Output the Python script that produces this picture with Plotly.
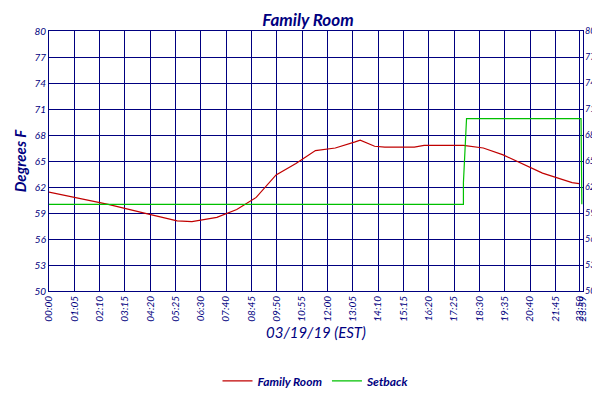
import plotly.graph_objects as go

## Data (x in axis units: 65 units per tick step)
tick_labels = ["00:00", "01:05", "02:10", "03:15", "04:20", "05:25", "06:30", "07:40",
               "08:45", "09:50", "10:55", "12:00", "13:05", "14:10", "15:15", "16:20",
               "17:25", "18:30", "19:35", "20:40", "21:45", "23:50", "23:59"]
tick_vals = [i * 65 for i in range(21)] + [1362, 1371]

room_x = [0, 63, 152, 253, 329, 367, 431, 482, 532, 583, 634, 684, 735, 786, 799,
          836, 862, 938, 963, 1064, 1115, 1166, 1216, 1267, 1343, 1361]
room_y = [61.4, 60.8, 60.0, 58.9, 58.1, 58.0, 58.5, 59.4, 60.8, 63.4, 64.7, 66.2,
          66.5, 67.2, 67.4, 66.7, 66.6, 66.6, 66.8, 66.8, 66.5, 65.7, 64.7, 63.6,
          62.5, 62.4]

setback_x = [0, 1064, 1064, 1070, 1072, 1366, 1368]
setback_y = [60.0, 60.0, 62.5, 67.5, 69.9, 69.9, 60.0]

navy = "#000080"
font = dict(family="Lato", color=navy, style="italic")

fig = go.Figure()
fig.add_trace(go.Scatter(x=room_x, y=room_y, mode="lines", name="Family Room",
                         line=dict(color="#c00000", width=1.2)))
fig.add_trace(go.Scatter(x=setback_x, y=setback_y, mode="lines", name="Setback",
                         line=dict(color="#00c000", width=1.2)))
# invisible trace to get right-hand axis labels
fig.add_trace(go.Scatter(x=[0], y=[50], yaxis="y2", showlegend=False,
                         mode="markers", marker=dict(opacity=0)))

yticks = list(range(50, 81, 3))
fig.update_layout(
    width=600, height=400,
    margin=dict(l=40, r=22, t=23, b=78, autoexpand=True),
    paper_bgcolor="white", plot_bgcolor="white",
    font=font,
    title=dict(text="Family Room", x=0.5, y=0.985, yanchor="top",
               font=dict(size=17, family="Lato", color=navy, style="italic", weight="bold")),
    xaxis=dict(range=[0, 1371], tickvals=tick_vals, ticktext=tick_labels,
               tickangle=-90, tickfont=dict(size=10), showgrid=True, gridcolor=navy,
               gridwidth=1, showline=True, linecolor=navy, mirror=True, zeroline=False,
               ticks="", title=dict(text="03/19/19 (EST)", font=dict(size=15), standoff=6)),
    yaxis=dict(range=[50, 80], tickvals=yticks, tickfont=dict(size=10), showgrid=True,
               gridcolor=navy, showline=True, linecolor=navy, mirror=True, zeroline=False,
               ticks="", title=dict(text="Degrees F", font=dict(size=15, weight="bold"), standoff=4)),
    yaxis2=dict(range=[50, 80], tickvals=yticks, tickfont=dict(size=9), overlaying="y",
                side="right", showgrid=False, zeroline=False, ticks="",
                ticklabelstandoff=1, automargin=True),
    legend=dict(orientation="h", x=0.5, xanchor="center", y=-0.29, yanchor="top",
                font=dict(size=12, weight="bold")),
)

fig.write_html("out.html")
